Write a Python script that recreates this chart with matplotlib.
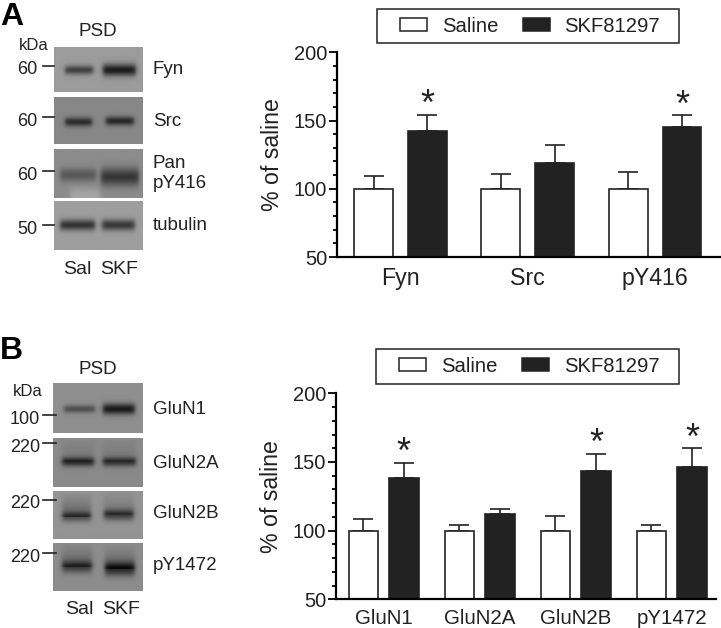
import matplotlib
matplotlib.use('Agg')
import matplotlib.pyplot as plt
import numpy as np
from matplotlib.patches import Patch, Rectangle

plt.rcParams['font.family'] = ['Liberation Sans', 'DejaVu Sans']

W, H = 721, 628
legend_labels = ['Saline', 'SKF81297']

# panel A values
cats_a = ['Fyn', 'Src', 'pY416']
saline_a = [100, 100, 100]
saline_top_a = [109, 111, 112.5]
skf_a = [142.4, 119, 145.4]
skf_top_a = [154.4, 132.4, 153.7]
star_a = [True, False, True]

# panel B values
cats_b = ['GluN1', 'GluN2A', 'GluN2B', 'pY1472']
saline_b = [100, 100, 100, 100]
saline_top_b = [108.7, 104, 111, 104.4]
skf_b = [138.3, 112, 143.4, 146.6]
skf_top_b = [149.3, 116, 156, 160]
star_b = [True, False, True, True]

# blots: kDa, marker y, top, bottom, background grey,
# bands as (x0, x1, y centre, half thickness, darkness, smear up)
blots_a = [
    ('60', 66, 47, 92, 0.61, [(65, 93, 70, 4.5, 0.36, 0), (103, 136, 70, 6, 0.50, 0)]),
    ('60', 117, 97, 144, 0.53, [(65, 92, 122, 4.5, 0.36, 0), (106, 134, 121, 4.5, 0.38, 0)]),
    ('60', 171, 149, 198, 0.55, [(60, 96, 175, 7, 0.20, 0), (101, 139, 177, 9, 0.34, 0),
                                 (70, 100, 196, 8, -0.10, 0)]),
    ('50', 225, 201, 250, 0.62, [(60, 95, 225, 5.5, 0.42, 0), (102, 135, 225, 5.5, 0.40, 0)]),
]
blots_b = [
    ('100', 415, 383, 433, 0.56, [(64, 95, 409, 4, 0.25, 0), (103, 135, 409, 5.5, 0.46, 0)]),
    ('220', 443, 438, 487, 0.54, [(62, 94, 462, 4.5, 0.36, 0.08), (103, 136, 462, 4.5, 0.33, 0.08)]),
    ('220', 500, 491, 539, 0.58, [(62, 91, 517, 5, 0.26, 0.20), (104, 134, 515, 5.5, 0.32, 0.12)]),
    ('220', 553, 543, 591, 0.55, [(62, 92, 567, 6, 0.30, 0.16), (105, 135, 569, 7, 0.38, 0.16)]),
]
blot_names_a = [('Fyn', 70), ('Src', 121), ('Pan', 164), ('pY416', 183), ('tubulin', 225)]
blot_names_b = [('GluN1', 410), ('GluN2A', 464), ('GluN2B', 514), ('pY1472', 566)]


def axes_px(fig, x0, y0, x1, y1):
    # pixel box, y measured from the top of the picture
    return fig.add_axes([x0 / W, 1 - y1 / H, (x1 - x0) / W, (y1 - y0) / H])


def fig_text(fig, x, y, s, **kw):
    fig.text(x / W, 1 - y / H, s, **kw)


def draw_blot(fig, x0, x1, y0, y1, grey, bands):
    ax = axes_px(fig, x0, y0, x1, y1)
    xs = np.linspace(x0, x1, 180)
    ys = np.linspace(y0, y1, 100)
    xx, yy = np.meshgrid(xs, ys)
    img = np.full(xx.shape, grey, dtype=float)
    for bx0, bx1, yc, half, dark, smear in bands:
        across = 0.5 * (np.tanh((xx - bx0) / 2.5) - np.tanh((xx - bx1) / 2.5))
        img -= dark * across * np.exp(-((yy - yc) / half) ** 2)
        if smear:
            img -= smear * across * np.clip(1 - (yc - yy) / 26, 0, 1) * (yy < yc)
    ax.imshow(img, cmap='gray', vmin=0, vmax=1, aspect='auto', interpolation='bilinear',
              extent=[x0, x1, y1, y0])
    ax.axis('off')


def blot_panel(fig, blots, names, x0, x1, name_x, tick_x0, tick_x1, label_x):
    for kda, mark_y, y0, y1, grey, bands in blots:
        draw_blot(fig, x0, x1, y0, y1, grey, bands)
        fig.add_artist(plt.Line2D([tick_x0 / W, tick_x1 / W], [1 - mark_y / H] * 2, color='#222222', lw=1.2))
        fig_text(fig, label_x, mark_y + 4, kda, fontsize=13, ha='right', va='center', color='#222222')
    for name, y in names:
        fig_text(fig, name_x, y, name, fontsize=13.5, ha='left', va='center', color='#222222')


def bar_panel(fig, box, xlim, cats, sal, sal_top, skf, skf_top, stars, star_gap, label_size, label_pad, leg_box):
    ax = axes_px(fig, *box)
    x = np.arange(len(cats))
    off, wid = 0.2115, 0.305
    ax.bar(x - off, np.array(sal) - 50, wid, bottom=50, color='white', edgecolor='#222222', linewidth=1.2, zorder=2)
    ax.bar(x + off, np.array(skf) - 50, wid, bottom=50, color='#222222', edgecolor='#222222', linewidth=1.2, zorder=2)
    ax.errorbar(x - off, sal, yerr=[np.zeros(len(sal)), np.array(sal_top) - sal], fmt='none',
                ecolor='#222222', elinewidth=1.2, capsize=7, capthick=1.2, zorder=1)
    ax.errorbar(x + off, skf, yerr=[np.zeros(len(skf)), np.array(skf_top) - skf], fmt='none',
                ecolor='#222222', elinewidth=1.2, capsize=7, capthick=1.2, zorder=1)
    for i, s in enumerate(stars):
        if s:
            ax.annotate('*', (x[i] + off, skf_top[i]), xytext=(0, star_gap), textcoords='offset pixels',
                        ha='center', va='center', fontsize=26, color='#222222')
    ax.set_xlim(*xlim)
    ax.set_ylim(50, 200)
    ax.set_yticks([50, 100, 150, 200])
    ax.set_yticks(np.arange(50, 201, 10), minor=True)
    ax.tick_params(axis='y', which='major', length=6, width=1.3, labelsize=14.5, pad=1, labelcolor='#222222')
    ax.tick_params(axis='y', which='minor', length=3.2, width=1.3)
    ax.set_xticks(x)
    ax.set_xticklabels(cats, fontsize=label_size, color='#222222')
    ax.tick_params(axis='x', length=0, pad=label_pad)
    ax.set_ylabel('% of saline', fontsize=16.7, color='#222222', labelpad=7)
    ax.spines[['top', 'right']].set_visible(False)
    ax.spines[['left', 'bottom']].set_linewidth(1.6)
    handles = [Patch(facecolor='white', edgecolor='#222222', linewidth=1.1),
               Patch(facecolor='#222222', edgecolor='#222222', linewidth=1.1)]
    lx0, ly0, lx1, ly1 = leg_box
    # legend box in the reference is wider than its contents, so draw the frame apart
    fig.add_artist(Rectangle((lx0 / W, 1 - ly1 / H), (lx1 - lx0) / W, (ly1 - ly0) / H, transform=fig.transFigure,
                             facecolor='white', edgecolor='#222222', linewidth=1.1))
    fig.legend(handles, legend_labels, ncol=2, loc='center',
               bbox_to_anchor=((lx0 + 2) / W, 1 - ly1 / H, (lx1 - lx0) / W, (ly1 - ly0) / H),
               fontsize=14.6, frameon=False, borderpad=0.4,
               handlelength=1.33, handleheight=0.6, handletextpad=0.74, columnspacing=1.2,
               labelcolor='#222222', borderaxespad=0)
    return ax


fig = plt.figure(figsize=(W / 100, H / 100), dpi=100)

fig_text(fig, 0, 25, 'A', fontsize=23, fontweight='bold', ha='left', va='baseline')
fig_text(fig, 0, 359, 'B', fontsize=23, fontweight='bold', ha='left', va='baseline')

fig_text(fig, 98, 32, 'PSD', fontsize=13.6, ha='center', va='center', color='#222222')
fig_text(fig, 34, 46, 'kDa', fontsize=12, ha='center', va='center', color='#222222')
fig_text(fig, 98, 370, 'PSD', fontsize=13.6, ha='center', va='center', color='#222222')
fig_text(fig, 28, 392, 'kDa', fontsize=12, ha='center', va='center', color='#222222')
blot_panel(fig, blots_a, blot_names_a, 54, 143, 153, 43, 54, 37)
blot_panel(fig, blots_b, blot_names_b, 53, 143, 153, 43, 56, 40)
for x, s in [(77, 'Sal'), (119, 'SKF')]:
    fig_text(fig, x, 269, s, fontsize=14, ha='center', va='center', color='#222222')
for x, s in [(79, 'Sal'), (121, 'SKF')]:
    fig_text(fig, x, 609, s, fontsize=14, ha='center', va='center', color='#222222')

bar_panel(fig, (337, 52.3, 721, 257), (-0.499, 2.518), cats_a, saline_a, saline_top_a, skf_a, skf_top_a,
          star_a, 9, 16.7, 7, (377, 9, 679, 43))
bar_panel(fig, (336, 393.3, 716, 599.3), (-0.495, 3.46), cats_b, saline_b, saline_top_b, skf_b, skf_top_b,
          star_b, 9, 14.8, 7, (376, 349, 679, 384))

fig.savefig('out.png', dpi=100)
